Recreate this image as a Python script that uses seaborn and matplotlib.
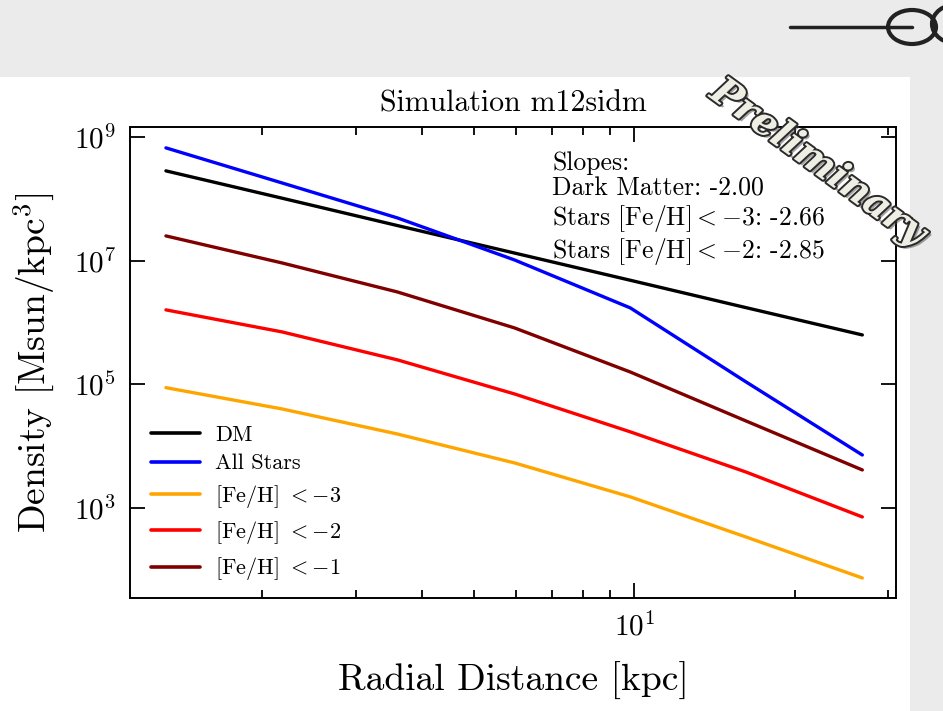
import numpy as np
import pandas as pd
import matplotlib
matplotlib.use("Agg")
import matplotlib.pyplot as plt
import matplotlib.patheffects as pe
import matplotlib.ticker as mticker
from matplotlib.patches import Rectangle, Ellipse
from matplotlib.lines import Line2D
import seaborn as sns

# ---- data ----
radius_kpc = [1.32, 2.18, 3.59, 5.96, 9.83, 16.2, 26.8]
density_dm = [2.82e8, 1.02e8, 3.68e7, 1.32e7, 4.79e6, 1.73e6, 6.25e5]
density_all_stars = [6.64e8, 1.80e8, 4.89e7, 1.02e7, 1.71e6, 1.09e5, 7.14e3]
density_feh_m3 = [8.77e4, 3.97e4, 1.56e4, 5.31e3, 1.50e3, 337, 73.1]
density_feh_m2 = [1.59e6, 7.00e5, 2.47e5, 6.93e4, 1.69e4, 3.79e3, 710]
density_feh_m1 = [2.50e7, 9.14e6, 3.10e6, 8.11e5, 1.57e5, 2.54e4, 4.09e3]

series_labels = ["DM", "All Stars", r"[Fe/H] $< -3$", r"[Fe/H] $< -2$", r"[Fe/H] $< -1$"]
series_colors = ["black", "blue", "orange", "red", "#800000"]
slope_lines = ["Slopes:", "Dark Matter: -2.00",
               r"Stars [Fe/H]$< -3$: -2.66", r"Stars [Fe/H]$< -2$: -2.85"]
y_ticks = [1e3, 1e5, 1e7, 1e9]
title_text = "Simulation m12sidm"
x_label = "Radial Distance [kpc]"
y_label = r"Density [Msun/kpc$^3$]"

series_values = [density_dm, density_all_stars, density_feh_m3, density_feh_m2, density_feh_m1]
df = pd.concat([
    pd.DataFrame({"r": radius_kpc, "rho": vals, "series": lab})
    for lab, vals in zip(series_labels, series_values)
], ignore_index=True)

# ---- style ----
sns.set_style("ticks")
plt.rcParams["font.family"] = ["serif"]
plt.rcParams["font.serif"] = ["cmr10", "DejaVu Serif"]
plt.rcParams["mathtext.fontset"] = "cm"
plt.rcParams["axes.formatter.use_mathtext"] = True
for k in ["text.color", "axes.labelcolor", "xtick.color", "ytick.color", "axes.edgecolor"]:
    plt.rcParams[k] = "black"

W, H = 943, 711
fig = plt.figure(figsize=(W / 100, H / 100), dpi=100, facecolor="#ebebeb")

# white slide panel
fig.add_artist(Rectangle((0, 0), 910 / W, (H - 77) / H, transform=fig.transFigure,
                         facecolor="white", edgecolor="none", zorder=0))

ax = fig.add_axes([130 / W, (H - 598) / H, (896 - 130) / W, (598 - 127) / H])
ax.set_facecolor("white")

sns.lineplot(data=df, x="r", y="rho", hue="series", hue_order=series_labels,
             palette=dict(zip(series_labels, series_colors)), linewidth=2.4,
             ax=ax, legend="full")

ax.set_xscale("log")
ax.set_yscale("log")
ax.set_xlim(1.13, 31)
ax.set_ylim(10 ** 1.54, 10 ** 9.16)
ax.yaxis.set_major_locator(mticker.FixedLocator(y_ticks))
ax.yaxis.set_major_formatter(mticker.LogFormatterSciNotation())
ax.yaxis.set_minor_locator(mticker.NullLocator())
ax.xaxis.set_minor_formatter(mticker.NullFormatter())

ax.tick_params(which="both", direction="in", top=True, right=True, width=1.3)
ax.tick_params(which="major", length=11, labelsize=21, pad=10)
ax.tick_params(which="minor", length=6)
for s in ax.spines.values():
    s.set_linewidth(1.4)

ax.set_xlabel(x_label, fontsize=27, labelpad=15)
ax.set_ylabel(y_label, fontsize=27, labelpad=13)
ax.set_title(title_text, fontsize=21.5, pad=11)

sns.move_legend(ax, "lower left", bbox_to_anchor=(0.007, 0.0), frameon=False,
                title=None, fontsize=16, handlelength=2.2, labelspacing=0.42,
                borderaxespad=0.3, handletextpad=0.7)
for h in ax.get_legend().get_lines():
    h.set_linewidth(2.6)

ax.text(0.551, 0.949, "\n".join(slope_lines), transform=ax.transAxes,
        fontsize=18.5, va="top", ha="left", linespacing=1.1)

# "Preliminary" stamp
fig.text(818 / W, 1 - 163 / H, "Preliminary", rotation=-36, ha="center", va="center",
         fontsize=28, family="DejaVu Serif", style="italic", weight="bold",
         color="#eeeee4",
         path_effects=[pe.SimplePatchShadow(offset=(2, -2), alpha=0.5),
                       pe.withStroke(linewidth=2.8, foreground="#2a2a2a")],
         zorder=10)

# logo at top-right (decorative)
fig.add_artist(Line2D([790 / W, 912 / W], [1 - 27 / H, 1 - 27 / H],
                      transform=fig.transFigure, color="#222222", linewidth=2.5))
fig.add_artist(Ellipse((912 / W, 1 - 27 / H), 48 / W, 34 / H, transform=fig.transFigure,
                       facecolor="none", edgecolor="#222222", linewidth=3))
fig.add_artist(Ellipse((958 / W, 1 - 24 / H), 52 / W, 40 / H, transform=fig.transFigure,
                       facecolor="none", edgecolor="#222222", linewidth=3))

fig.savefig("out.png", dpi=100, facecolor=fig.get_facecolor())
